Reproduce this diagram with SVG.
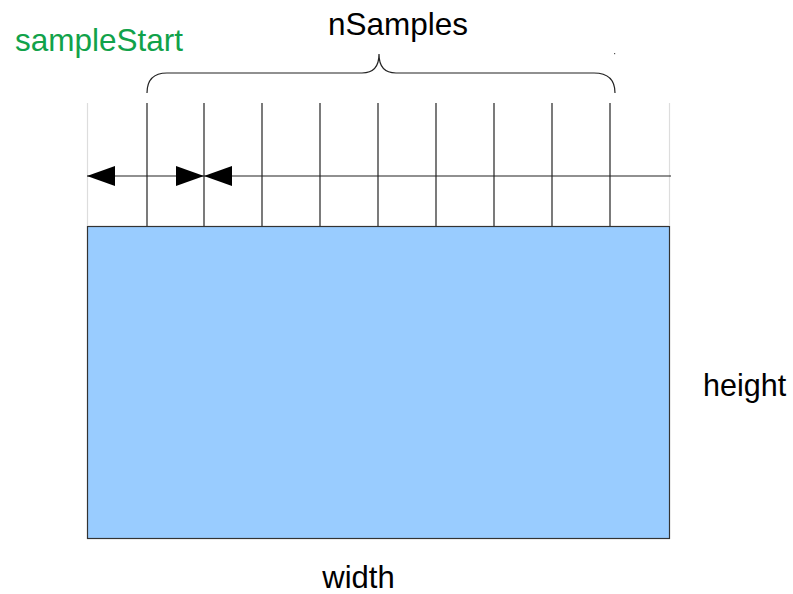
<svg xmlns="http://www.w3.org/2000/svg" width="793" height="594" viewBox="0 0 793 594">
<style>
.t{font-family:"Liberation Sans",Arial,sans-serif;fill:#000}
.g{stroke:#222;stroke-width:1.2;fill:none}
.e{stroke:#ddd;stroke-width:1.2;fill:none}
</style>
<defs>
<marker id="ah" markerWidth="28" markerHeight="20" refX="28" refY="10" orient="auto" markerUnits="userSpaceOnUse">
<path d="M0,0 L28,10 L0,20 Z" fill="#000"/>
</marker>
</defs>
<rect width="793" height="594" fill="#fff"/>
<g id="area">
<rect x="87.5" y="226.5" width="582" height="312" fill="#99ccff" stroke="#333" stroke-width="1.2"/>
</g>
<g id="grid">
<line class="e" x1="87.5" y1="103" x2="87.5" y2="226"/>
<line class="e" x1="669.5" y1="103" x2="669.5" y2="226"/>
<line class="g" x1="147" y1="103" x2="147" y2="226"/>
<line class="g" x1="204" y1="103" x2="204" y2="226"/>
<line class="g" x1="262" y1="103" x2="262" y2="226"/>
<line class="g" x1="320" y1="103" x2="320" y2="226"/>
<line class="g" x1="378" y1="103" x2="378" y2="226"/>
<line class="g" x1="436" y1="103" x2="436" y2="226"/>
<line class="g" x1="494" y1="103" x2="494" y2="226"/>
<line class="g" x1="552" y1="103" x2="552" y2="226"/>
<line class="g" x1="610" y1="103" x2="610" y2="226"/>
</g>
<g id="connectors">
<line class="g" x1="87" y1="176" x2="671" y2="176"/>
<line x1="147" y1="176" x2="87" y2="176" stroke="none" marker-end="url(#ah)"/>
<line x1="150" y1="176" x2="204" y2="176" stroke="none" marker-end="url(#ah)"/>
<line x1="260" y1="176" x2="204" y2="176" stroke="none" marker-end="url(#ah)"/>
<path class="g" d="M147,93 Q147,73 167,73 L362,73 Q379,73 379,54 Q379,73 396,73 L594,73 Q615,73 615,93"/>
<rect x="614" y="53" width="1.2" height="1.2" fill="#555"/>
</g>
<g id="labels">
<text class="t" x="15" y="51" font-size="31.5" style="fill:#11a24a">sampleStart</text>
<text class="t" x="398" y="35" font-size="31.5" text-anchor="middle">nSamples</text>
<text class="t" x="703" y="396" font-size="30.5">height</text>
<text class="t" x="358.5" y="588" font-size="31" text-anchor="middle">width</text>
</g>
</svg>
